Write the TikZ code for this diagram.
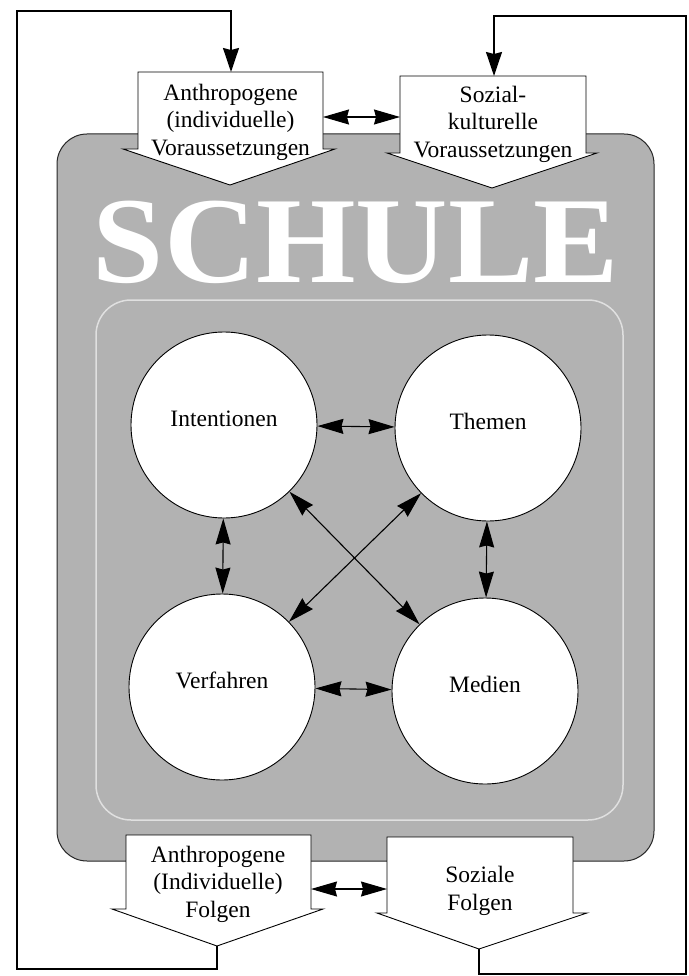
\documentclass[tikz,border=0pt]{standalone}
\usepackage{fontspec}
\setmainfont{Liberation Serif}
\usetikzlibrary{arrows.meta}
\begin{document}
\begin{tikzpicture}[x=1pt,y=-1pt,
  every node/.style={inner sep=0pt},
  lbl/.style={font=\fontsize{23.5}{27.5}\selectfont, align=center},
  shapebox/.style={draw=black, line width=0.9pt, fill=white, line join=miter},
  ring/.style={circle, draw=black, line width=0.9pt, fill=white, minimum size=186pt,
    font=\fontsize{23.5}{27.5}\selectfont, text height=16pt, text depth=13pt},
  dbl/.style={line width=1.1pt,
    {Stealth[length=26pt,width=15pt,inset=2pt]}-{Stealth[length=26pt,width=15pt,inset=2pt]}},
  fb/.style={line width=1.6pt, line join=miter, -{Stealth[length=24pt,width=16pt,inset=2pt]}},
  schoolbg/.style={draw=black!85, fill=black!30, line width=1pt, rounded corners=30pt},
  innerframe/.style={draw=black!12, line width=1.5pt, rounded corners=35pt},
]
\fill[white] (0,0) rectangle (688,976);
\useasboundingbox (0,0) rectangle (688,976);

% school background
\draw[schoolbg] (57,134) rectangle (654,861);
\draw[innerframe] (96,300) rectangle (623,820);
\node[anchor=base, text=white, font=\fontsize{123}{130}\selectfont\bfseries] (schule) at (356,282) {\scalebox{1.04}[1]{SCHULE}};

% circles
\node[ring] (int) at (224,425) {Intentionen};
\node[ring] (the) at (488,428) {Themen};
\node[ring] (ver) at (222,687) {Verfahren};
\node[ring] (med) at (485,691) {Medien};

\draw[dbl] (int) -- (the);
\draw[dbl] (ver) -- (med);
\draw[dbl] (int) -- (ver);
\draw[dbl] (the) -- (med);
\draw[dbl] (int) -- (med);
\draw[dbl] (the) -- (ver);

% arrow boxes
\draw[shapebox] (138,72) -- (231,72) coordinate (AVn) -- (323,72) -- (323,117) coordinate (AVe)
  -- (323,149) -- (335,149) -- (230,185) -- (123,149) -- (138,149) -- cycle;
\draw[shapebox] (400,76) -- (494,76) coordinate (SVn) -- (586,76) -- (586,153) -- (597,153)
  -- (492,188) -- (387,153) -- (400,153) -- (400,117) coordinate (SVw) -- cycle;
\draw[shapebox] (126,835) -- (311,835) -- (311,889) coordinate (AFe) -- (311,909) -- (323,909)
  -- (217,946) coordinate (AFt) -- (112,909) -- (126,909) -- cycle;
\draw[shapebox] (387,837) -- (573,837) -- (573,913) -- (587,913) -- (479,949) coordinate (SFt)
  -- (377,913) -- (387,913) -- (387,889) coordinate (SFw) -- cycle;

\node[lbl] (AVl) at (230.5,122) {Anthropogene\\(individuelle)\\Voraussetzungen};
\node[lbl] (SVl) at (493,124) {Sozial-\\kulturelle\\Voraussetzungen};
\node[lbl] (AFl) at (218,884) {Anthropogene\\(Individuelle)\\Folgen};
\node[lbl] (SFl) at (480,891) {Soziale\\Folgen};

\draw[dbl] (AVe) -- (SVw);
\draw[dbl] (AFe) -- (SFw);

% feedback loops
\coordinate (LB) at (17,969);
\coordinate (LT) at (17,11);
\coordinate (RT) at (686,16);
\coordinate (RB) at (686,974);
\draw[fb] (AFt) |- (LB) -- (LT) -| (AVn);
\draw[fb] (SFt) |- (RB) -- (RT) -| (SVn);
\end{tikzpicture}
\end{document}
